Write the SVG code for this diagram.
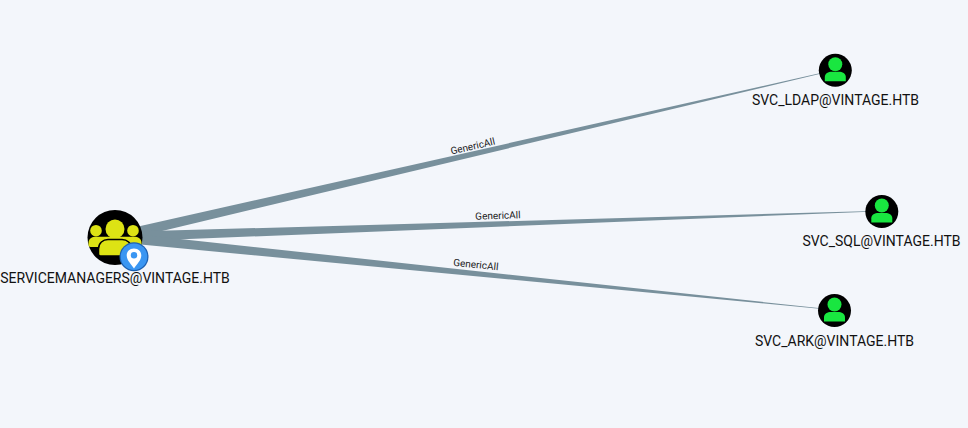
<svg xmlns="http://www.w3.org/2000/svg" width="968" height="428" viewBox="0 0 968 428">
<style>
.edge{fill:#78909c}
.lbl{font-family:Roboto,"Liberation Sans",sans-serif;font-size:10px;fill:#222;text-anchor:middle}
.name{font-family:Roboto,"Liberation Sans",sans-serif;font-size:14px;fill:#111;text-anchor:middle}
.disc{fill:#000}
.u{fill:#19e640}
.g{fill:#dde314}
</style>
<defs>
<g id="user">
<circle class="disc" cy="0.300" r="16.500"/>
<circle class="u" cx="0" cy="-5.800" r="7"/>
<path class="u" d="M-10.500 11.300V7C-10.500 3.500-7 1.700-3.500 1.700H3.500C7 1.700 10.500 3.500 10.500 7V11.300Z"/>
</g>
</defs>
<rect width="968" height="428" fill="#f3f6fb"/>
<g id="connectors">
<polygon class="edge" points="113.800,232 116.200,242 835.100,70.200 834.900,69.800"/>
<polygon class="edge" points="115,232 115,242 882,211.200 882,210.800"/>
<polygon class="edge" points="115.500,232 114.500,242 835,310.200 835,309.800"/>
<text class="lbl" transform="translate(473.500 149.500) rotate(-13)">GenericAll</text>
<text class="lbl" transform="translate(498 219) rotate(-2)">GenericAll</text>
<text class="lbl" transform="translate(475.500 268) rotate(5.800)">GenericAll</text>
</g>
<g id="node-servicemanagers">
<circle class="disc" cx="115" cy="237.500" r="27.500"/>
<circle class="g" cx="115" cy="229" r="9.500"/>
<circle class="g" cx="96" cy="230.700" r="5.800"/>
<circle class="g" cx="133" cy="230.700" r="5.800"/>
<path class="g" d="M88.500 245V243C88.500 238.500 92 236.700 96 236.700H134C138 236.700 141.500 238.500 141.500 243V245Q141.500 247 139.500 247H90.500Q88.500 247 88.500 245Z"/>
<path class="g" stroke="#000" stroke-width="1.500" d="M98.500 254V249C98.500 243 103 239.500 108 239.500H122C127 239.500 131.500 243 131.500 249V254Q131.500 256 129.500 256H100.500Q98.500 256 98.500 254Z"/>
<circle cx="134" cy="256.700" r="14.500" fill="#1c5fb0"/>
<circle cx="134" cy="256.700" r="13.300" fill="#3a96f2"/>
<path fill="#fff" d="M134 248.500C129.500 248.500 126.700 251.500 126.700 255.500C126.700 260.500 132 265 134 268.500C136 265 141.300 260.500 141.300 255.500C141.300 251.500 138.500 248.500 134 248.500Z"/>
<circle cx="134" cy="255.300" r="3.200" fill="#3a96f2"/>
<text class="name" x="115" y="283">SERVICEMANAGERS@VINTAGE.HTB</text>
</g>
<g id="node-svc-ldap">
<use href="#user" x="835.300" y="70"/>
<text class="name" x="835.500" y="105">SVC_LDAP@VINTAGE.HTB</text>
</g>
<g id="node-svc-sql">
<use href="#user" x="881.800" y="211.300"/>
<text class="name" x="881.500" y="246">SVC_SQL@VINTAGE.HTB</text>
</g>
<g id="node-svc-ark">
<use href="#user" x="834.500" y="310.300"/>
<text class="name" x="834.500" y="346">SVC_ARK@VINTAGE.HTB</text>
</g>
</svg>
